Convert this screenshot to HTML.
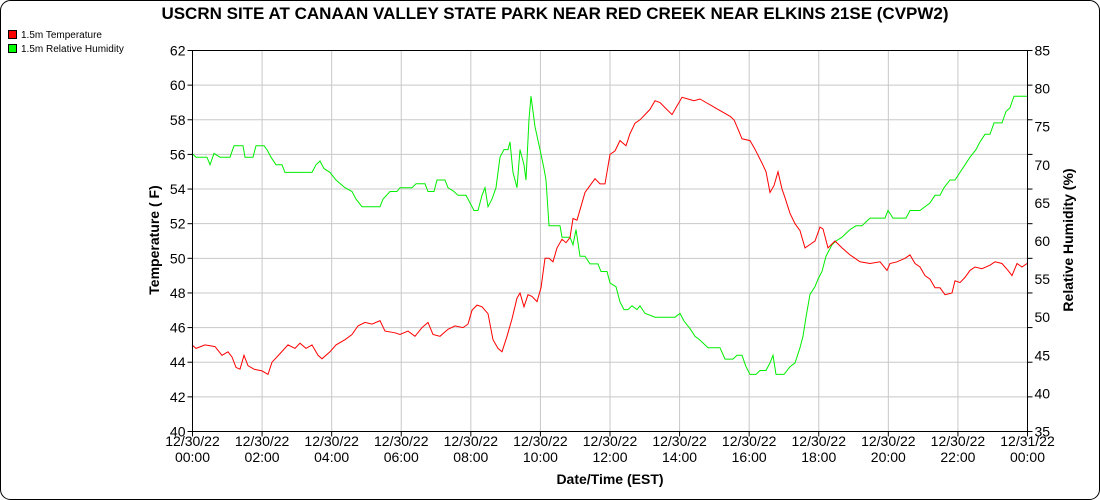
<!DOCTYPE html>
<html><head><meta charset="utf-8"><style>
body{margin:0;background:#fff;}
svg{display:block;font-family:"Liberation Sans",sans-serif;}
</style></head><body>
<svg id="s" width="1100" height="500" xmlns="http://www.w3.org/2000/svg">
<rect x="0.5" y="0.5" width="1099" height="499" rx="10" fill="#fff" stroke="#000"/>
<text x="555" y="19" font-size="17" font-weight="bold" text-anchor="middle">USCRN SITE AT CANAAN VALLEY STATE PARK NEAR RED CREEK NEAR ELKINS 21SE (CVPW2)</text>
<rect x="8.5" y="30.5" width="8" height="8" fill="#f00" stroke="#000"/>
<text x="21" y="38" font-size="10">1.5m Temperature</text>
<rect x="8.5" y="44.5" width="8" height="8" fill="#0f0" stroke="#000"/>
<text x="21" y="52" font-size="10">1.5m Relative Humidity</text>
<g id="grid" stroke="#c8c8c8" stroke-width="1"></g>
<g id="lbl" font-size="14"></g>
<polyline id="rh" fill="none" stroke="#00ee00" stroke-width="1"/>
<polyline id="t" fill="none" stroke="#f00" stroke-width="1"/>
<rect x="192.5" y="50.5" width="835" height="381" fill="none" stroke="#000"/>
<text x="610" y="484" font-size="14" font-weight="bold" text-anchor="middle">Date/Time (EST)</text>
<text transform="translate(159,240) rotate(-90)" font-size="14" font-weight="bold" text-anchor="middle">Temperature ( F)</text>
<text transform="translate(1073,240) rotate(-90)" font-size="14" font-weight="bold" text-anchor="middle">Relative Humidity (%)</text>
</svg>
<script>
var ns="http://www.w3.org/2000/svg",g=document.getElementById("grid"),l=document.getElementById("lbl");
function el(p,tag,a,txt){var e=document.createElementNS(ns,tag);for(var k in a)e.setAttribute(k,a[k]);if(txt)e.textContent=txt;p.appendChild(e);}
var X0=192.5,X1=1027.5,Y0=50.5,Y1=431.5;
for(var i=0;i<=11;i++){var y=Y1-(Y1-Y0)*i/11;
 if(i>0&&i<11)el(g,"line",{x1:X0,x2:X1,y1:y,y2:y});
 el(g,"line",{x1:X0-5,x2:X0,y1:y,y2:y,stroke:"#000"});
 el(g,"line",{x1:X1,x2:X1+5,y1:y,y2:y,stroke:"#000"});
 el(l,"text",{x:X0-7,y:y+5,"text-anchor":"end"},String(40+2*i));}
for(var i=0;i<=10;i++){var y=Y1-(Y1-Y0)*i/10;
 el(l,"text",{x:X1+7,y:y+5},String(35+5*i));}
var hrs=["00:00","02:00","04:00","06:00","08:00","10:00","12:00","14:00","16:00","18:00","20:00","22:00","00:00"];
for(var i=0;i<=12;i++){var x=X0+(X1-X0)*i/12;
 if(i>0&&i<12)el(g,"line",{x1:x,x2:x,y1:Y0,y2:Y1});
 el(g,"line",{x1:x,x2:x,y1:Y1,y2:Y1+5,stroke:"#000"});
 el(l,"text",{x:x,y:446,"text-anchor":"middle"},i==12?"12/31/22":"12/30/22");
 el(l,"text",{x:x,y:462,"text-anchor":"middle"},hrs[i]);}
var T=[192,45,196,44.8,205,45,215,44.9,222,44.4,228,44.6,232,44.3,236,43.7,240,43.6,244,44.4,248,43.8,254,43.6,262,43.5,268,43.3,272,44,280,44.5,288,45,295,44.8,300,45.1,306,44.8,312,45,318,44.4,322,44.2,330,44.6,336,45,345,45.3,352,45.6,358,46.1,365,46.3,372,46.2,380,46.4,385,45.8,395,45.7,400,45.6,408,45.8,415,45.5,422,46,428,46.3,433,45.6,440,45.5,448,45.9,455,46.1,463,46,468,46.2,472,47,477,47.3,482,47.2,488,46.8,493,45.3,498,44.8,502,44.6,507,45.5,512,46.5,517,47.7,520,48,524,47.2,528,47.9,532,47.8,537,47.5,541,48.3,545,50,549,50,553,49.8,557,50.6,562,51.1,566,50.9,570,51.2,573,52.3,577,52.2,580,52.8,585,53.8,590,54.2,595,54.6,600,54.3,605,54.3,610,56,615,56.2,620,56.8,626,56.5,630,57.2,635,57.8,640,58,645,58.3,650,58.6,655,59.1,660,59,665,58.7,672,58.3,677,58.8,682,59.3,688,59.2,694,59.1,700,59.2,706,59,712,58.8,718,58.6,724,58.4,730,58.2,734,58,737,57.6,742,56.9,750,56.8,755,56.3,762,55.5,766,55,770,53.8,774,54.2,778,55,782,54,785,53.5,790,52.6,795,52,800,51.6,805,50.6,810,50.8,815,51,820,51.8,823,51.7,828,50.6,835,51,842,50.6,850,50.2,855,50,860,49.8,870,49.7,880,49.8,887,49.3,890,49.7,897,49.8,905,50,910,50.2,915,49.7,920,49.5,925,49,930,48.8,935,48.3,940,48.3,945,47.9,952,48,955,48.7,960,48.6,965,48.9,970,49.3,975,49.5,982,49.4,990,49.6,995,49.8,1002,49.7,1008,49.3,1012,49,1017,49.7,1022,49.5,1027,49.7];
var H=[192,71.5,196,71,207,71,210,70,214,71.5,220,71,230,71,234,72.5,243,72.5,245,71,253,71,256,72.5,264,72.5,267,72,271,71,276,70,282,70,285,69,305,69,312,69,316,70,320,70.5,324,69.5,330,69,336,68,345,67,352,66.5,356,65.5,362,64.5,380,64.5,383,65.5,390,66.5,397,66.5,400,67,412,67,416,67.5,425,67.5,428,66.5,434,66.5,437,68,445,68,448,67,454,66.5,458,66,466,66,470,65,474,64,478,64,482,66,485,67,488,64.5,492,65.5,496,67,500,71,504,72,508,72,510,73,513,69,517,67,520,72,524,70,526,68,529,76,531,79,535,75,540,72,544,69.5,546,68,549,62,560,62,562,60.5,570,60.5,573,59.5,576,61.5,580,58,585,58,590,57,598,57,601,56,607,56,610,54.5,616,54,620,52,624,51,628,51,632,51.5,637,51,640,51.5,645,50.5,655,50,675,50,680,50.5,684,49.5,690,48.5,695,47.5,700,47,708,46,720,46,725,44.5,733,44.5,737,45,742,45,746,43.5,750,42.5,756,42.5,760,43,766,43,770,44,773,45,776,42.5,784,42.5,790,43.5,795,44,800,46,803,47.5,806,50,810,53,815,54,818,55,822,56,826,58,832,59.5,836,60,842,60.5,846,61,850,61.5,856,62,862,62,866,62.5,870,63,880,63,885,63,888,64,893,63,906,63,910,64,915,64,920,64,930,65,935,66,940,66,944,67,950,68,955,68,960,69,965,70,970,71,976,72,980,73,985,74,990,74,994,75.5,1002,75.5,1006,77,1010,77.5,1014,79,1027,79];
function pts(a,f){var s="";for(var i=0;i<a.length;i+=2)s+=a[i]+","+f(a[i+1]).toFixed(1)+" ";return s;}
document.getElementById("t").setAttribute("points",pts(T,function(v){return Y0+(62-v)*(Y1-Y0)/22;}));
document.getElementById("rh").setAttribute("points",pts(H,function(v){return Y0+(85-v)*(Y1-Y0)/50;}));
</script>
</body></html>
